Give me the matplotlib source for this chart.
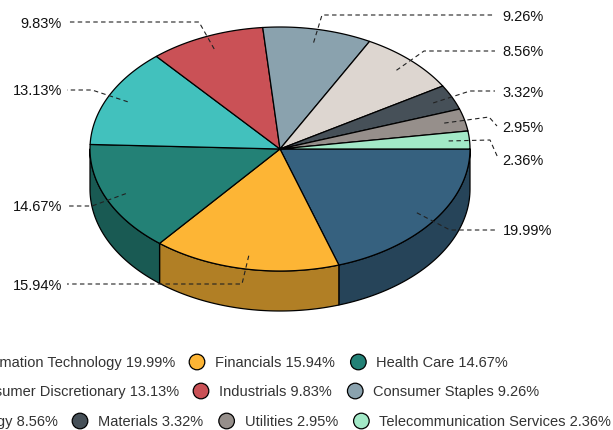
import numpy as np
import matplotlib
matplotlib.use("Agg")
import matplotlib.pyplot as plt
from matplotlib.patches import Polygon, Circle
from matplotlib.colors import to_rgb

# sector weights (%), in drawing order starting at 3 o'clock, clockwise
categories = ["Information Technology", "Financials", "Health Care",
              "Consumer Discretionary", "Industrials", "Consumer Staples",
              "Energy", "Materials", "Utilities", "Telecommunication Services"]
values = [19.99, 15.94, 14.67, 13.13, 9.83, 9.26, 8.56, 3.32, 2.95, 2.36]
colors = ["#36617f", "#fdb535", "#238176", "#42c1bd", "#ca5156",
          "#8aa2ae", "#ddd6d0", "#465058", "#968f8b", "#a2e9c7"]

# legend rows (indices into categories)
legend_rows = [[0, 1, 2], [3, 4, 5], [6, 7, 8, 9]]

W, H = 613, 430
CX, CY = 280, 149        # centre of top face
RX, RY = 190, 122        # top face radii
DEPTH = 40               # side thickness

# data label layout: (text x, text y, align, bend point, connector end)
label_layout = [
    (502.5, 230, "left", (450, 230), (495, 230)),
    (62, 285, "right", (242, 284), (67, 284)),
    (62, 206, "right", (92, 206), (67, 206)),
    (62, 90, "right", (92, 90), (67, 90)),
    (62, 23, "right", (199, 22), (67, 22)),
    (502.5, 16, "left", (322, 15), (495, 15)),
    (502.5, 51, "left", (424, 51), (495, 51)),
    (502.5, 92, "left", (470, 91), (495, 91)),
    (502.5, 127, "left", (489, 117), (497, 126)),
    (502.5, 160, "left", (490, 140), (498, 158)),
]

FONT = "Liberation Sans"
FS = 10.5

fig = plt.figure(figsize=(W / 100, H / 100), dpi=100)
ax = fig.add_axes([0, 0, 1, 1])
ax.set_xlim(0, W)
ax.set_ylim(H, 0)
ax.axis("off")


def arc(t0, t1, dy=0.0, n=80):
    t = np.radians(np.linspace(t0, t1, n))
    return np.column_stack([CX + RX * np.cos(t), CY + dy + RY * np.sin(t)])


def darker(c, f=0.7):
    r, g, b = to_rgb(c)
    return (r * f, g * f, b * f)


vals = np.array(values)
ends = np.cumsum(vals) / vals.sum() * 360
starts = np.concatenate([[0], ends[:-1]])

# outer side walls (only the front half, 0..180 deg is visible)
for a, b, c in zip(starts, ends, colors):
    lo, hi = max(a, 0), min(b, 180)
    if hi <= lo:
        continue
    top = arc(lo, hi)
    bot = arc(hi, lo, dy=DEPTH)
    ax.add_patch(Polygon(np.vstack([top, bot]), closed=True,
                         facecolor=darker(c), edgecolor="black", lw=0.9,
                         joinstyle="round", zorder=1))

# top faces
for a, b, c in zip(starts, ends, colors):
    pts = np.vstack([[CX, CY], arc(a, b)])
    ax.add_patch(Polygon(pts, closed=True, facecolor=c, edgecolor="black",
                         lw=0.9, joinstyle="round", zorder=2))

# data labels with dashed connectors
for a, b, v, lay in zip(starts, ends, values, label_layout):
    tx, ty, ha, bend, end = lay
    mid = np.radians((a + b) / 2)
    sx = CX + 0.89 * RX * np.cos(mid)
    sy = CY + 0.89 * RY * np.sin(mid)
    xs = [sx, bend[0], end[0]]
    ys = [sy, bend[1], end[1]]
    ax.plot(xs, ys, color="#222222", lw=0.8, ls=(0, (4, 3)), zorder=3)
    ax.text(tx, ty + 5.2, f"{v:.2f}%", ha=ha, va="baseline",
            fontsize=FS, family=FONT, color="#111111", zorder=4)

# legend (rows flow from the second item's marker)
row_y = [362, 391, 421]
row_anchor = [197, 201, 80]
GAP, TXT = 23.5, 18
renderer = fig.canvas.get_renderer()


def width_of(s):
    t = ax.text(0, 0, s, fontsize=FS, family=FONT)
    w = t.get_window_extent(renderer).width
    t.remove()
    return w


def legend_item(mx, y, i):
    ax.add_patch(Circle((mx, y), 7.8, facecolor=colors[i], edgecolor="black",
                        lw=0.9, zorder=3))
    s = f"{categories[i]} {values[i]:.2f}%"
    ax.text(mx + TXT, y + 5.2, s, ha="left", va="baseline", fontsize=FS,
            family=FONT, color="#333333", zorder=4)
    return mx + TXT + width_of(s) + GAP


for row, y, anchor in zip(legend_rows, row_y, row_anchor):
    first = row[0]
    s0 = f"{categories[first]} {values[first]:.2f}%"
    legend_item(anchor - 22 - width_of(s0) - TXT, y, first)
    x = anchor
    for i in row[1:]:
        x = legend_item(x, y, i)

fig.savefig("out.png", dpi=100)
